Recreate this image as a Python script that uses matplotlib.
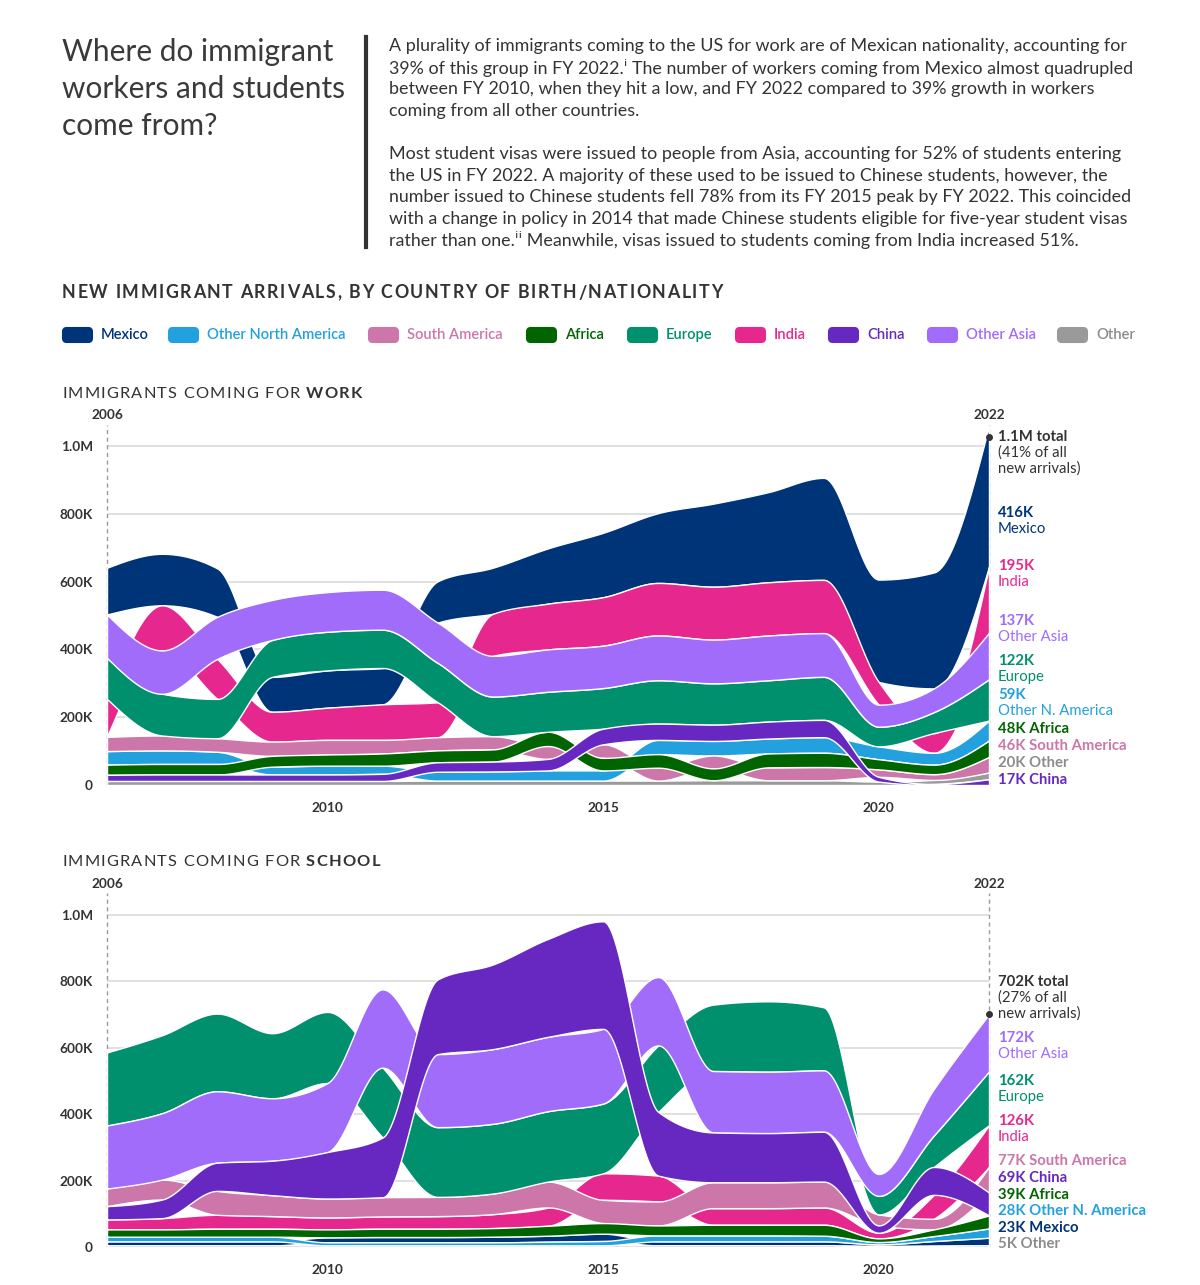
import numpy as np
import matplotlib.pyplot as plt
import matplotlib.transforms as mtransforms
from matplotlib.patches import FancyBboxPatch
from matplotlib.lines import Line2D

plt.rcParams['font.family'] = ['Lato', 'DejaVu Sans']

# ---- data (thousands of new arrivals, FY 2006-2022) ----
years = np.arange(2006, 2023)

names = ['Mexico', 'Other North America', 'South America', 'Africa', 'Europe',
         'India', 'China', 'Other Asia', 'Other']
short_names = ['Mexico', 'Other N. America', 'South America', 'Africa', 'Europe',
               'India', 'China', 'Other Asia', 'Other']

# immigrants coming for work
work_mexico   = [138, 152, 143, 103, 110, 107, 122, 136, 163, 190, 206, 245, 266, 301, 302, 342, 416]
work_other_na = [40, 40, 36, 23, 26, 24, 26, 27, 30, 30, 42, 43, 44, 46, 38, 35, 59]
work_s_am     = [42, 44, 40, 42, 43, 40, 39, 39, 38, 40, 38, 38, 38, 39, 22, 17, 46]
work_africa   = [30, 31, 31, 32, 33, 36, 35, 36, 42, 37, 40, 35, 41, 42, 30, 28, 48]
work_europe   = [121, 123, 116, 109, 114, 113, 116, 117, 118, 120, 128, 122, 122, 127, 58, 62, 122]
work_india    = [112, 133, 118, 88, 95, 105, 103, 124, 135, 143, 155, 156, 157, 157, 67, 58, 195]
work_china    = [18, 19, 19, 19, 19, 21, 28, 29, 34, 46, 48, 48, 50, 51, 14, 3, 17]
work_o_asia   = [128, 128, 124, 118, 117, 118, 119, 120, 125, 125, 132, 129, 132, 129, 65, 70, 137]
work_other    = [12, 12, 12, 12, 12, 12, 13, 13, 13, 13, 13, 14, 14, 14, 10, 12, 20]

# immigrants coming for school
school_mexico   = [12, 12, 12, 12, 15, 16, 16, 17, 18, 22, 12, 12, 12, 12, 5, 14, 23]
school_other_na = [14, 14, 14, 14, 9, 9, 9, 9, 11, 13, 18, 18, 18, 17, 7, 15, 28]
school_s_am     = [53, 60, 72, 63, 57, 58, 58, 62, 78, 70, 72, 78, 78, 78, 33, 32, 77]
school_africa   = [22, 22, 24, 24, 24, 25, 25, 26, 30, 32, 30, 32, 32, 33, 11, 20, 39]
school_europe   = [220, 235, 234, 196, 214, 210, 210, 210, 212, 210, 200, 200, 212, 190, 56, 95, 162]
school_india    = [30, 34, 42, 38, 36, 37, 38, 42, 55, 80, 78, 50, 50, 52, 17, 72, 126]
school_china    = [40, 56, 85, 104, 140, 180, 225, 255, 295, 324, 192, 150, 148, 150, 22, 84, 69]
school_o_asia   = [190, 200, 215, 188, 208, 236, 220, 225, 224, 225, 206, 185, 185, 185, 66, 140, 172]
school_other    = [5, 5, 5, 5, 5, 5, 5, 5, 5, 5, 5, 5, 5, 5, 3, 4, 5]

work_total_text = '1.1M total'
work_share = 41
school_total = 702
school_share = 27

y_ticks = [0, 200, 400, 600, 800, 1000]
y_tick_labels = ['0', '200K', '400K', '600K', '800K', '1.0M']

colors = {
    'Mexico': '#003479',
    'Other North America': '#23a0de',
    'South America': '#cc76a9',
    'Africa': '#006400',
    'Europe': '#00906d',
    'India': '#e6288e',
    'China': '#6628c1',
    'Other Asia': '#a26cfb',
    'Other': '#9a9a9a',
}
text_colors = dict(colors)
text_colors['Other'] = '#8c8c8c'

draw_order = ['Mexico', 'India', 'Other', 'Other North America', 'South America',
              'Africa', 'Europe', 'Other Asia', 'China']

work = dict(zip(names, [work_mexico, work_other_na, work_s_am, work_africa, work_europe,
                        work_india, work_china, work_o_asia, work_other]))
school = dict(zip(names, [school_mexico, school_other_na, school_s_am, school_africa,
                          school_europe, school_india, school_china, school_o_asia,
                          school_other]))

W, H = 1200, 1285
DARK = '#333333'


def fx(x):
    return x / W


def fy(y):
    return 1 - y / H


def monotone(x, y, xf):
    # monotone cubic (same idea as d3.curveMonotoneX)
    x = np.asarray(x, float)
    y = np.asarray(y, float)
    h = np.diff(x)
    s = np.diff(y) / h
    m = np.zeros_like(y)
    for k in range(1, len(y) - 1):
        s0, s1 = s[k - 1], s[k]
        p = (s0 * h[k] + s1 * h[k - 1]) / (h[k - 1] + h[k])
        m[k] = (np.sign(s0) + np.sign(s1)) * min(abs(s0), abs(s1), 0.5 * abs(p))
    m[0] = (3 * s[0] - m[1]) / 2
    m[-1] = (3 * s[-1] - m[-2]) / 2
    i = np.clip(np.searchsorted(x, xf, side='right') - 1, 0, len(x) - 2)
    t = (xf - x[i]) / h[i]
    h00 = 2 * t**3 - 3 * t**2 + 1
    h10 = t**3 - 2 * t**2 + t
    h01 = -2 * t**3 + 3 * t**2
    h11 = t**3 - t**2
    return h00 * y[i] + h10 * h[i] * m[i] + h01 * y[i + 1] + h11 * h[i] * m[i + 1]


def ranked_stack(ax, data):
    V = np.array([data[n] for n in names], float)
    lo = np.zeros_like(V)
    hi = np.zeros_like(V)
    for t in range(V.shape[1]):
        cum = 0.0
        for i in np.argsort(V[:, t], kind='stable'):
            lo[i, t] = cum
            cum += V[i, t]
            hi[i, t] = cum
    xf = np.linspace(years[0], years[-1], 1601)
    for z, n in enumerate(draw_order):
        i = names.index(n)
        ax.fill_between(xf, monotone(years, lo[i], xf), monotone(years, hi[i], xf),
                        facecolor=colors[n], edgecolor='white', linewidth=1.0,
                        zorder=3 + z)
    return V.sum(axis=0)


def setup_axes(ax, top_val):
    ax.set_xlim(years[0], years[-1])
    ax.set_ylim(0, 1100)
    for s in ax.spines.values():
        s.set_visible(False)
    for v in y_ticks:
        ax.axhline(v, color='#dddddd', lw=1.3, zorder=0)
    ax.set_yticks(y_ticks, labels=y_tick_labels)
    ax.set_xticks([2010, 2015, 2020])
    ax.tick_params(axis='y', length=0, pad=10, labelsize=9.8, labelcolor=DARK)
    ax.tick_params(axis='x', length=0, pad=12, labelsize=9.8, labelcolor=DARK)
    for lb in ax.get_yticklabels() + ax.get_xticklabels():
        lb.set_fontweight('bold')
    for yr in (years[0], years[-1]):
        ax.plot([yr, yr], [0, top_val], ls=(0, (3, 2.5)), color='#9a9a9a', lw=1,
                zorder=1, clip_on=False)
    ax.set_facecolor('none')


fig = plt.figure(figsize=(12, 12.85), dpi=100)
renderer = fig.canvas.get_renderer()


def width_px(s, **kw):
    t = fig.text(0, 0, s, **kw)
    w = t.get_window_extent(renderer=renderer).width
    t.remove()
    return w


def spaced_text(x, y, s, spacing, **kw):
    # draw text one glyph at a time so it can be letter-spaced like the original
    space_w = width_px('i i', **kw) - width_px('ii', **kw)
    for ch in s:
        if ch == ' ':
            x += space_w + spacing
            continue
        t = fig.text(fx(x), fy(y), ch, va='center', ha='left', **kw)
        x += t.get_window_extent(renderer=renderer).width + spacing
    return x


# ---- heading block ----
for k, line in enumerate(['Where do immigrant', 'workers and students', 'come from?']):
    fig.text(fx(62), fy(52 + 37 * k), line, fontsize=21.5, fontweight='normal',
             color='#3a3a3a', va='center', ha='left')
fig.add_artist(Line2D([fx(366), fx(366)], [fy(37), fy(247)], color=DARK, lw=3))

para = [
    'A plurality of immigrants coming to the US for work are of Mexican nationality, accounting for',
    '39% of this group in FY 2022.\u2071 The number of workers coming from Mexico almost quadrupled',
    'between FY 2010, when they hit a low, and FY 2022 compared to 39% growth in workers',
    'coming from all other countries.',
    None,
    'Most student visas were issued to people from Asia, accounting for 52% of students entering',
    'the US in FY 2022. A majority of these used to be issued to Chinese students, however, the',
    'number issued to Chinese students fell 78% from its FY 2015 peak by FY 2022. This coincided',
    'with a change in policy in 2014 that made Chinese students eligible for five-year student visas',
    'rather than one.\u2071\u2071 Meanwhile, visas issued to students coming from India increased 51%.',
]
for k, line in enumerate(para):
    if line:
        fig.text(fx(389), fy(46 + 21.6 * k), line, fontsize=12.9, color=DARK,
                 va='center', ha='left')

spaced_text(62, 293, 'NEW IMMIGRANT ARRIVALS, BY COUNTRY OF BIRTH/NATIONALITY', 1.6,
            fontsize=12.8, fontweight='bold', color=DARK)

# legend
legend_x = [62, 168, 368, 526, 627, 735, 828, 927, 1057]
for n, lx in zip(names, legend_x):
    fig.patches.append(FancyBboxPatch((fx(lx + 1), fy(342)), fx(29), 14 / H,
                                      boxstyle='round,pad=0,rounding_size=0.003',
                                      transform=fig.transFigure, facecolor=colors[n],
                                      edgecolor=colors[n], lw=1.5))
    fig.text(fx(lx + 39), fy(335), n, fontsize=10.6, fontweight='semibold',
             color=text_colors[n], va='center')

# ---- charts ----
ax1 = fig.add_axes([fx(107), fy(785), 882 / W, 1100 * 0.339 / H])
ax2 = fig.add_axes([fx(107), fy(1247), 882 / W, 1100 * 0.332 / H])

for ax, data, title_y, yr_y, top_val, word in [
        (ax1, work, 394, 415, 1062, 'WORK'),
        (ax2, school, 862, 884, 1066, 'SCHOOL')]:
    setup_axes(ax, top_val)
    ranked_stack(ax, data)
    xe = spaced_text(62, title_y, 'IMMIGRANTS COMING FOR ', 1.2, fontsize=11.8,
                     color=DARK)
    spaced_text(xe, title_y, word, 1.2, fontsize=11.8, fontweight='bold', color=DARK)
    trans = mtransforms.blended_transform_factory(ax.transData, fig.transFigure)
    for yr in (years[0], years[-1]):
        ax.text(yr, fy(yr_y), str(yr), transform=trans, ha='center', va='center',
                fontsize=9.8, fontweight='bold', color=DARK)

ax1.plot(years[-1], sum(v[-1] for v in work.values()) - 33, 'o', color=DARK, ms=4,
         zorder=20, clip_on=False)
ax2.plot(years[-1], school_total, 'o', color=DARK, ms=4, zorder=20, clip_on=False)

# ---- end labels ----
LX = fx(998)
FS = 10.7


def end_label(y, value, name, two_line):
    c = text_colors[name]
    label = short_names[names.index(name)]
    if two_line:
        fig.text(LX, fy(y), f'{value}K', fontsize=FS, fontweight='bold', color=c,
                 va='center')
        fig.text(LX, fy(y + 16), label, fontsize=FS, color=c, va='center')
    else:
        fig.text(LX, fy(y), f'{value}K {label}', fontsize=FS, fontweight='bold',
                 color=c, va='center')


def total_label(y, first, share):
    fig.text(LX, fy(y), first, fontsize=FS, fontweight='bold', color=DARK, va='center')
    fig.text(LX, fy(y + 16), f'({share}% of all', fontsize=FS, color=DARK, va='center')
    fig.text(LX, fy(y + 32), 'new arrivals)', fontsize=FS, color=DARK, va='center')


total_label(437, work_total_text, work_share)
work_label_pos = [('Mexico', 513, True), ('India', 566, True), ('Other Asia', 621, True),
                  ('Europe', 661, True), ('Other North America', 695, True),
                  ('Africa', 729, False), ('South America', 746, False),
                  ('Other', 763, False), ('China', 780, False)]
for n, y, two in work_label_pos:
    end_label(y, work[n][-1], n, two)

total_label(982, f'{school_total}K total', school_share)
school_label_pos = [('Other Asia', 1038, True), ('Europe', 1081, True), ('India', 1121, True),
                    ('South America', 1161, False), ('China', 1178, False),
                    ('Africa', 1195, False), ('Other North America', 1211, False),
                    ('Mexico', 1228, False), ('Other', 1244, False)]
for n, y, two in school_label_pos:
    end_label(y, school[n][-1], n, two)

fig.savefig('out.png', dpi=100, facecolor='white')
